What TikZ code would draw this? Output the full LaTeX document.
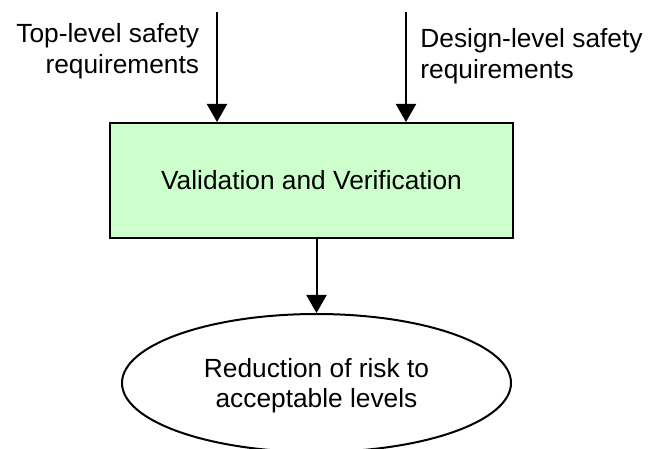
\documentclass[tikz,border=0pt]{standalone}
\usepackage{fontspec}
\setmainfont{Liberation Sans}
\usetikzlibrary{arrows.meta,shapes.geometric}
\definecolor{boxgreen}{HTML}{CCFFCC}
\begin{document}
\begin{tikzpicture}[x=0.5pt,y=-0.5pt,
  every node/.style={font=\fontsize{13.15}{15.3}\selectfont},
  vvbox/.style={draw,line width=1pt,fill=boxgreen,minimum width=201.5pt,minimum height=57.5pt,inner sep=0pt},
  goalell/.style={ellipse,draw,line width=1pt,fill=white,minimum width=194.5pt,minimum height=69pt,align=center,text depth=0pt,inner sep=0pt},
  lbl/.style={inner sep=0pt},
  arr/.style={line width=1pt,-{Triangle[width=10pt,length=9pt]}}]
\path[use as bounding box, clip] (0,0) rectangle (649,449);
\node[vvbox] (vv) at (311.5,180.5) {Validation and Verification};
\node[goalell] (goal) at (316.5,383) {Reduction of risk to\\acceptable levels};
\node[lbl,align=right,anchor=north east] (top) at (199.5,23) {Top-level safety\\requirements};
\node[lbl,align=left,anchor=north west] (design) at (420,28.5) {Design-level safety\\requirements};
\coordinate (tl) at (217,12);
\coordinate (tr) at (406,12);
\draw[arr] (tl) -- (tl |- vv.north);
\draw[arr] (tr) -- (tr |- vv.north);
\draw[arr] (vv.south -| goal.north) -- (goal.north);
\end{tikzpicture}
\end{document}
